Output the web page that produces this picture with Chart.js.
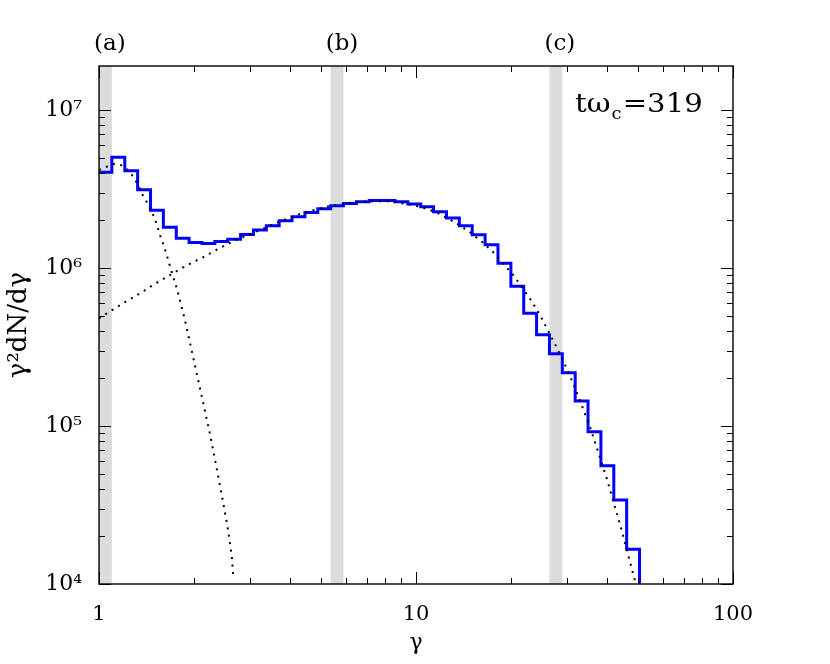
<!DOCTYPE html>
<html>
<head>
<meta charset="utf-8">
<script src="https://cdn.jsdelivr.net/npm/chart.js@4.4.0/dist/chart.umd.min.js"></script>
<style>
  html, body { margin: 0; padding: 0; background: #fff; }
  #wrap { width: 830px; height: 664px; }
</style>
</head>
<body>
<div id="wrap"><canvas id="spectrum" width="830" height="664"></canvas></div>
<script>
// histogram bin edges (gamma)
const binEdges = [1.000, 1.098, 1.206, 1.324, 1.454, 1.596, 1.753, 1.924, 2.113, 2.320,
  2.547, 2.797, 3.071, 3.372, 3.702, 4.064, 4.463, 4.900, 5.380, 5.907,
  6.486, 7.121, 7.819, 8.585, 9.428, 10.35, 11.36, 12.48, 13.70, 15.04,
  16.52, 18.14, 19.92, 21.87, 24.01, 26.36, 28.94, 31.78, 34.89, 38.31,
  42.07, 46.19, 50.72];

// gamma^2 dN/dgamma per bin
const histValues = [4.04e6, 5.02e6, 4.13e6, 3.12e6, 2.32e6, 1.81e6, 1.54e6, 1.45e6, 1.43e6, 1.47e6,
  1.52e6, 1.63e6, 1.74e6, 1.85e6, 1.99e6, 2.11e6, 2.24e6, 2.37e6, 2.48e6, 2.56e6,
  2.62e6, 2.67e6, 2.67e6, 2.62e6, 2.54e6, 2.44e6, 2.27e6, 2.07e6, 1.85e6, 1.62e6,
  1.40e6, 1.07e6, 7.66e5, 5.16e5, 3.78e5, 2.86e5, 2.17e5, 1.44e5, 9.2e4, 5.6e4,
  3.4e4, 1.66e4];

// cold (steep) dotted component
const coldGamma = [1.000, 1.109, 1.176, 1.225, 1.269, 1.309, 1.346, 1.377, 1.419, 1.455,
  1.489, 1.517, 1.542, 1.570, 1.603, 1.656, 1.706, 1.766, 1.816, 1.866,
  1.936, 2.032, 2.133, 2.239, 2.339, 2.438, 2.541, 2.624, 2.655];
const coldValues = [4.17e6, 4.55e6, 4.47e6, 4.22e6, 3.89e6, 3.52e6, 3.16e6, 2.86e6, 2.59e6, 2.33e6,
  2.12e6, 1.92e6, 1.72e6, 1.53e6, 1.38e6, 1.11e6, 9.04e5, 7.26e5, 5.83e5, 4.69e5,
  3.37e5, 2.16e5, 1.39e5, 8.89e4, 5.69e4, 3.66e4, 2.34e4, 1.50e4, 1.07e4];

// hot (broad) dotted component
const hotGamma = [1.00, 1.11, 1.22, 1.35, 1.48, 1.64, 1.80, 1.98, 2.10, 2.31,
  2.69, 3.14, 3.68, 4.31, 4.80, 5.36, 5.97, 6.65, 7.43, 8.28,
  9.35, 10.3, 11.6, 13.4, 14.7, 16.1, 17.5, 18.8, 20.3, 21.7,
  23.1, 24.5, 25.8, 27.2, 29.3, 31.3, 33.3, 35.4, 40.0, 44.6, 49.1];
const hotValues = [4.80e5, 5.48e5, 6.15e5, 6.92e5, 7.80e5, 8.81e5, 9.82e5, 1.09e6, 1.15e6, 1.28e6,
  1.50e6, 1.70e6, 1.95e6, 2.20e6, 2.33e6, 2.47e6, 2.56e6, 2.62e6, 2.65e6, 2.64e6,
  2.54e6, 2.44e6, 2.25e6, 1.92e6, 1.70e6, 1.47e6, 1.26e6, 1.07e6, 8.99e5, 7.43e5,
  6.21e5, 5.12e5, 4.19e5, 3.42e5, 2.53e5, 1.86e5, 1.36e5, 9.86e4, 4.63e4, 2.17e4, 1.04e4];

// shaded snapshot bins and their labels
const bandLabels = ['(a)', '(b)', '(c)'];
const bandLo = [1.0, 5.38, 26.36];
const bandHi = [1.098, 5.907, 28.94];

const xTickLabels = [1, 10, 100];
const yDecades = [1e4, 1e5, 1e6, 1e7];
const yTickLabels = ['10⁴', '10⁵', '10⁶', '10⁷'];

const serif = "'DejaVu Serif', serif";

// step line: each bin's value starts at its lower edge
const histPoints = histValues.map((v, i) => ({ x: binEdges[i], y: v }));
histPoints.push({ x: binEdges[binEdges.length - 1], y: histValues[histValues.length - 1] });
histPoints.push({ x: binEdges[binEdges.length - 1], y: 1e3 }); // drop off the bottom

const framePlugin = {
  id: 'frame',
  beforeDatasetsDraw(chart) {
    const { ctx, chartArea: a, scales: { x } } = chart;
    ctx.save();
    ctx.fillStyle = '#dcdcdc';
    for (let i = 0; i < bandLo.length; i++) {
      const x0 = x.getPixelForValue(bandLo[i]);
      const x1 = x.getPixelForValue(bandHi[i]);
      ctx.fillRect(x0, a.top, x1 - x0, a.bottom - a.top);
    }
    ctx.restore();
  },
  afterDraw(chart) {
    const { ctx, chartArea: a, scales: { x, y } } = chart;
    ctx.save();
    ctx.strokeStyle = '#000';
    ctx.lineWidth = 1.4;
    ctx.strokeRect(a.left, a.top, a.right - a.left, a.bottom - a.top);

    // inward ticks on all four sides
    ctx.lineWidth = 1;
    ctx.beginPath();
    for (let e = 0; e <= 2; e++) {
      for (let m = 1; m <= 9; m++) {
        const v = m * Math.pow(10, e);
        if (v > 100) break;
        const px = Math.round(x.getPixelForValue(v)) + 0.5;
        const len = m === 1 ? 12 : 6;
        ctx.moveTo(px, a.bottom); ctx.lineTo(px, a.bottom - len);
        ctx.moveTo(px, a.top); ctx.lineTo(px, a.top + len);
      }
    }
    for (let e = 4; e <= 7; e++) {
      for (let m = 1; m <= 9; m++) {
        const v = m * Math.pow(10, e);
        if (v > y.max) break;
        const py = Math.round(y.getPixelForValue(v)) + 0.5;
        const len = m === 1 ? 12 : 6;
        ctx.moveTo(a.left, py); ctx.lineTo(a.left + len, py);
        ctx.moveTo(a.right, py); ctx.lineTo(a.right - len, py);
      }
    }
    ctx.stroke();

    // band labels above the frame
    ctx.fillStyle = '#000';
    ctx.font = '23px ' + serif;
    ctx.textBaseline = 'middle';
    ctx.textAlign = 'left';
    for (let i = 0; i < bandLabels.length; i++) {
      ctx.fillText(bandLabels[i], x.getPixelForValue(bandLo[i]) - 5, a.top - 22);
    }

    // time stamp, top right (slightly widened like the original lettering)
    ctx.textBaseline = 'alphabetic';
    ctx.translate(575, 112);
    ctx.scale(1.12, 1);
    let tx = 0;
    ctx.font = '26px ' + serif;
    ctx.fillText('tω', tx, 0);
    tx += ctx.measureText('tω').width + 1;
    ctx.font = '16px ' + serif;
    ctx.fillText('c', tx, 7);
    tx += ctx.measureText('c').width + 1;
    ctx.font = '26px ' + serif;
    ctx.fillText('=319', tx, 0);
    ctx.restore();
  }
};

new Chart(document.getElementById('spectrum'), {
  type: 'line',
  data: {
    datasets: [
      {
        label: 'cold',
        data: coldGamma.map((g, i) => ({ x: g, y: coldValues[i] })),
        borderColor: '#000',
        borderWidth: 2,
        borderDash: [2, 5.5],
        pointRadius: 0,
        tension: 0,
        fill: false
      },
      {
        label: 'hot',
        data: hotGamma.map((g, i) => ({ x: g, y: hotValues[i] })),
        borderColor: '#000',
        borderWidth: 2,
        borderDash: [2, 5.5],
        pointRadius: 0,
        tension: 0,
        fill: false
      },
      {
        label: 'spectrum',
        data: histPoints,
        borderColor: '#0000ff',
        borderWidth: 3,
        stepped: 'before',
        pointRadius: 0,
        fill: false
      }
    ]
  },
  options: {
    responsive: false,
    animation: false,
    layout: { padding: { left: 0, right: 97, top: 66, bottom: 0 } },
    plugins: {
      legend: { display: false },
      tooltip: { enabled: false }
    },
    scales: {
      x: {
        type: 'logarithmic',
        position: 'bottom',
        min: 1,
        max: 100,
        grid: { display: false },
        border: { display: false },
        ticks: {
          autoSkip: false,
          maxRotation: 0,
          padding: 10,
          color: '#000',
          font: { family: serif, size: 21 },
          callback: v => xTickLabels.includes(v) ? String(v) : ''
        },
        title: {
          display: true,
          text: 'γ',
          color: '#000',
          font: { family: serif, size: 22 },
          padding: { top: 8, bottom: 8 }
        },
        afterFit: s => { s.height = 80; }
      },
      y: {
        type: 'logarithmic',
        position: 'left',
        min: 1e4,
        max: 1.897e7,
        grid: { display: false },
        border: { display: false },
        ticks: {
          autoSkip: false,
          padding: 9,
          color: '#000',
          font: { family: serif, size: 22 },
          callback: v => {
            const k = yDecades.indexOf(v);
            return k >= 0 ? yTickLabels[k] : '';
          }
        },
        title: {
          display: true,
          text: 'γ²dN/dγ',
          color: '#000',
          font: { family: serif, size: 26 },
          padding: { top: 4, bottom: 4 }
        },
        afterFit: s => { s.width = 99; }
      }
    }
  },
  plugins: [framePlugin]
});
</script>
</body>
</html>
